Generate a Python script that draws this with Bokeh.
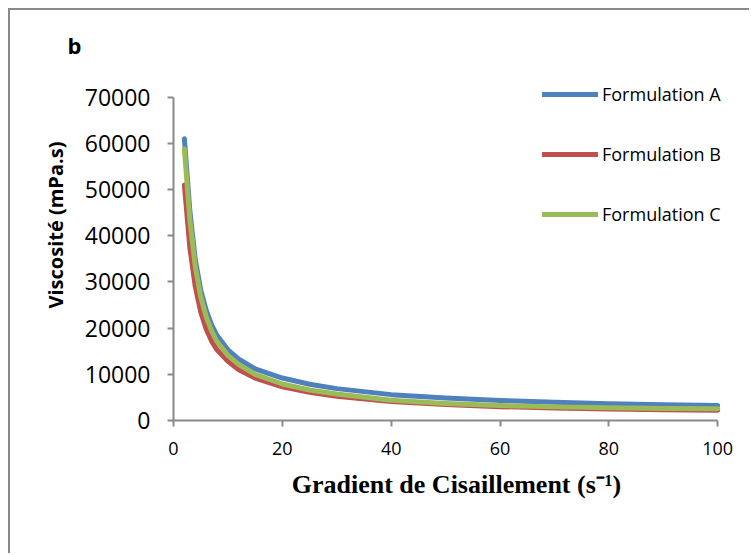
from bokeh.plotting import figure
from bokeh.models import FixedTicker, Legend, LegendItem, Range1d, Title
from bokeh.embed import file_html
from bokeh.resources import INLINE

# ---- data ----
shear_rate = [2, 3, 4, 5, 6, 7, 8, 10, 12, 15, 20, 25, 30, 40, 50, 60, 70, 80, 90, 100]
formulation_a = [61000, 45500, 34800, 28300, 23900, 20700, 18400, 15300, 13300, 11200,
                 9200, 7850, 6900, 5600, 4850, 4330, 3950, 3650, 3420, 3250]
formulation_b = [51000, 37500, 29000, 23500, 19800, 17200, 15300, 12800, 11000, 9200,
                 7300, 6100, 5250, 4100, 3450, 3000, 2700, 2480, 2320, 2200]
formulation_c = [58800, 43500, 33300, 26800, 22500, 19400, 17100, 14100, 12100, 10000,
                 7900, 6600, 5750, 4400, 3700, 3250, 2950, 2750, 2620, 2530]
series_names = ["Formulation A", "Formulation B", "Formulation C"]
series_colors = ["#4F81BD", "#C0504D", "#9BBB59"]
x_ticks = [0, 20, 40, 60, 80, 100]
y_ticks = [0, 10000, 20000, 30000, 40000, 50000, 60000, 70000]

W, H = 741, 545
# frame is a little larger than the axes (axis bounds keep axes at 0-100 / 0-70000)
p = figure(width=W, height=H, output_backend="svg", toolbar_location=None,
           x_range=Range1d(0, 104), y_range=Range1d(0, 76000),
           min_border_left=163, min_border_right=12, min_border_top=59, min_border_bottom=135)
p.styles = {"margin-left": "8px", "margin-top": "8px",
            "border-left": "2px solid #898989", "border-top": "2px solid #898989"}
p.outline_line_color = None
p.grid.visible = False
p.background_fill_color = "white"
p.border_fill_color = "white"

renderers = []
for ys, col in zip([formulation_a, formulation_b, formulation_c], series_colors):
    r = p.line(shear_rate, ys, line_color=col, line_width=5, line_cap="round", line_join="round")
    renderers.append(r)

axis_col = "#898989"
for ax in (p.xaxis[0], p.yaxis[0]):
    ax.axis_line_color = axis_col
    ax.axis_line_width = 2
    ax.major_tick_line_color = axis_col
    ax.major_tick_line_width = 2
    ax.major_tick_out = 6
    ax.major_tick_in = 0
    ax.minor_tick_line_color = None
    ax.major_label_text_color = "#000000"

p.xaxis.bounds = (x_ticks[0], x_ticks[-1])
p.yaxis.bounds = (y_ticks[0], y_ticks[-1])
p.xaxis.ticker = FixedTicker(ticks=x_ticks)
p.yaxis.ticker = FixedTicker(ticks=y_ticks)
p.xaxis.major_label_text_font = "Open Sans"
p.xaxis.major_label_text_font_size = "18px"
p.xaxis.major_label_standoff = 15
p.yaxis.major_label_text_font = "Open Sans"
p.yaxis.major_label_text_font_size = "23px"
p.yaxis.major_label_standoff = 17

p.xaxis.axis_label = "Gradient de Cisaillement (s\u207b\u00b9)"
p.xaxis.axis_label_text_font = "Liberation Serif"
p.xaxis.axis_label_text_font_style = "bold"
p.xaxis.axis_label_text_font_size = "26px"
p.xaxis.axis_label_text_color = "#000000"
p.xaxis.axis_label_standoff = 12

# panel label "b"
p.title.text = "b"
p.title.align = "left"
p.title.offset = -106
p.title.standoff = 20
p.title.text_font = "Open Sans"
p.title.text_font_style = "bold"
p.title.text_font_size = "22px"
p.title.text_color = "#000000"

# y axis title (placed off-centre as in the reference)
ytitle = Title(text="Viscosit\u00e9 (mPa.s)", align="left", offset=112, standoff=25,
               text_font="Open Sans", text_font_style="bold", text_font_size="20px",
               text_color="#000000")
p.add_layout(ytitle, "left")

legend = Legend(items=[LegendItem(label=n, renderers=[r]) for n, r in zip(series_names, renderers)],
                location=(369, 194), orientation="vertical")
legend.border_line_color = None
legend.background_fill_alpha = 0
legend.padding = 0
legend.margin = 0
legend.spacing = 36
legend.glyph_width = 56
legend.glyph_height = 20
legend.label_height = 20
legend.label_standoff = 4
legend.label_text_font = "Open Sans"
legend.label_text_font_size = "18px"
legend.label_text_color = "#000000"
p.add_layout(legend)

open("out.html", "w").write(file_html(p, INLINE))
